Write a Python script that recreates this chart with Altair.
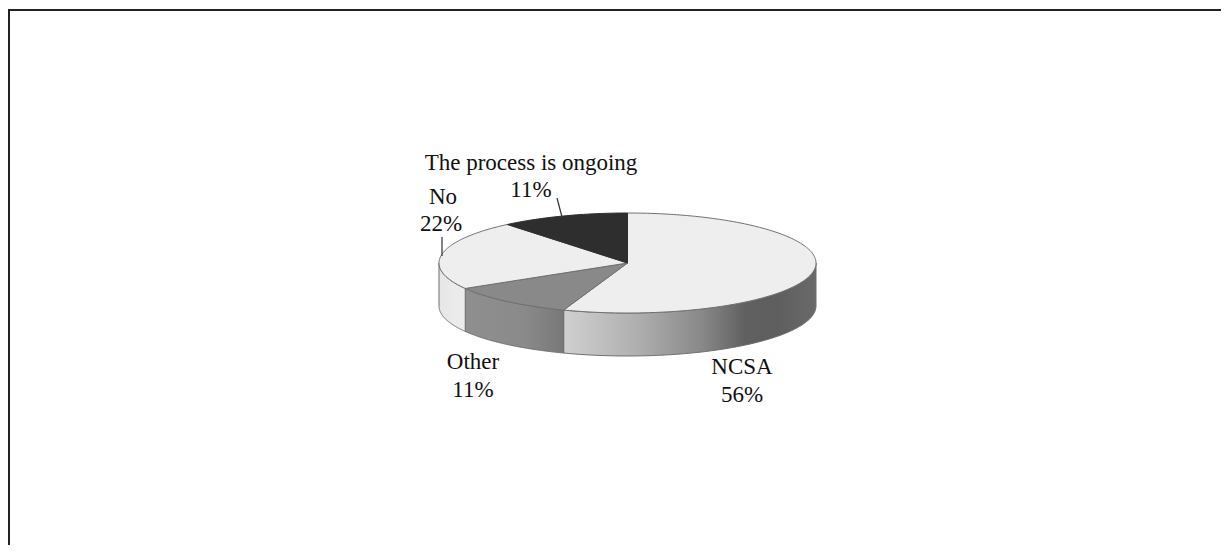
import numpy as np
import pandas as pd
import altair as alt

CATEGORIES = ["NCSA", "Other", "No", "The process is ongoing"]
PRINTED = ["56%", "11%", "22%", "11%"]
SHARES = [55.5, 11, 22.5, 11]
TOP_COLORS = ["#eeeeee", "#898989", "#eeeeee", "#2e2e2e"]

W, H = 1213, 537
CX, CY, A, B = 619.5, 255.0, 188.5, 50.0
DEPTH = 43.0 / B
FONT = "Liberation Serif"
x_scale = alt.Scale(domain=[-CX / A, (W - CX) / A], range=[0, W], nice=False, zero=False)
y_scale = alt.Scale(domain=[(CY - H) / B, CY / B], range=[H, 0], nice=False, zero=False)
X = alt.X("u:Q", scale=x_scale, axis=None)
Y = alt.Y("v:Q", scale=y_scale, axis=None)


def gradient(stops):
    return alt.LinearGradient(
        gradient="linear", x1=0, x2=1, y1=0, y2=0,
        stops=[alt.GradientStop(offset=o, color=c) for o, c in stops],
    )


edges = np.cumsum([0] + SHARES) * 3.6
rows = []
for i, name in enumerate(CATEGORIES):
    a0, a1 = edges[i], edges[i + 1]
    th = np.radians(np.linspace(a0, a1, max(3, int(a1 - a0))))
    pts = [(0.0, 0.0)] + list(zip(np.sin(th), np.cos(th))) + [(0.0, 0.0)]
    for k, (u, v) in enumerate(pts):
        rows.append({"slice": name, "k": k, "u": float(u), "v": float(v)})
top = pd.DataFrame(rows)


def wall(a0, a1, stops):
    th = np.radians(np.linspace(a0, a1, 120))
    d = pd.DataFrame({"u": np.sin(th), "v": np.cos(th), "v2": np.cos(th) - DEPTH}).sort_values("u")
    return alt.Chart(d).mark_area(
        color=gradient(stops), stroke="#6f6f6f", strokeWidth=1, clip=False
    ).encode(x=X, y=Y, y2=alt.Y2("v2:Q"))


walls = [
    wall(90, edges[1], [(0, "#d0d0d0"), (0.3, "#aeaeae"), (0.55, "#888888"), (0.72, "#606060"), (0.85, "#5e5e5e"), (1, "#6a6a6a")]),
    wall(edges[1], edges[2], [(0, "#8f8f8f"), (0.6, "#8a8a8a"), (1, "#787878")]),
    wall(edges[2], 270, [(0, "#e6e6e6"), (1, "#ededed")]),
]

tops = [
    alt.Chart(top[top["slice"] == name]).mark_line(
        fill=TOP_COLORS[i], stroke="#6f6f6f" if i != 3 else "#2e2e2e", strokeWidth=1
    ).encode(x=X, y=Y, order="k:Q")
    for i, name in enumerate(CATEGORIES)
]


def label(text, px, py):
    return alt.Chart(pd.DataFrame({"t": [text]})).mark_text(
        font=FONT, fontSize=23, color="#111111", align="center", baseline="middle"
    ).encode(text="t:N", x=alt.value(px - 8), y=alt.value(py - 8))


def leader(x0, y0, x1, y1):
    return alt.Chart(pd.DataFrame({"a": [0]})).mark_rule(color="#333333", strokeWidth=1.2).encode(
        x=alt.value(x0 - 8), y=alt.value(y0 - 8), x2=alt.value(x1 - 8), y2=alt.value(y1 - 8)
    )


labels = [
    label(CATEGORIES[3], 531, 163), label(PRINTED[3], 531, 190),
    label(CATEGORIES[2], 443, 197), label(PRINTED[2], 441, 224),
    label(CATEGORIES[1], 473, 362), label(PRINTED[1], 473, 390),
    label(CATEGORIES[0], 742, 367), label(PRINTED[0], 742, 395),
]
leaders = [leader(557, 198, 562, 217), leader(442, 237, 442, 256)]
frame = [
    leader(8, 10, 1229, 10).mark_rule(color="#222222", strokeWidth=2),
    leader(9, 10, 9, 553).mark_rule(color="#222222", strokeWidth=2),
]

chart = alt.layer(*frame, *walls, *tops, *leaders, *labels).resolve_scale(
    x="shared", y="shared"
).properties(width=W, height=H, padding=0, autosize="none", background="white").configure_view(stroke=None)

chart.save("out.html", embed_options={"renderer": "svg", "actions": False})
